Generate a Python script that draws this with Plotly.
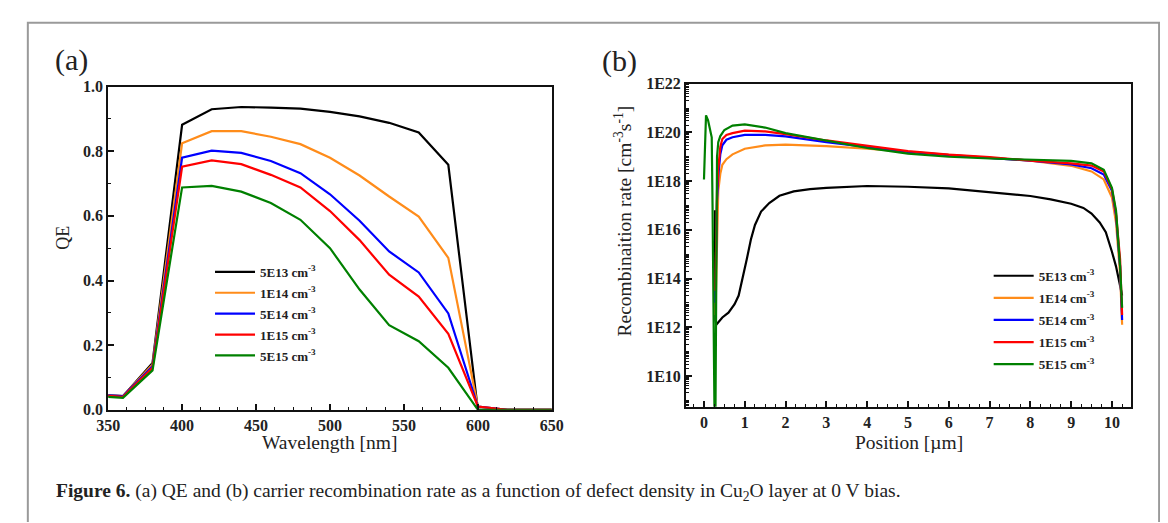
import plotly.graph_objects as go

W, H = 1168, 523

# ---------------- Panel (a): QE vs wavelength ----------------
wavelength = [350, 360, 380, 400, 420, 440, 460, 480, 500, 520, 540, 560, 580, 600, 620, 640, 650]
qe_5e13 = [0.045, 0.042, 0.145, 0.882, 0.930, 0.937, 0.935, 0.932, 0.922, 0.908, 0.888, 0.858, 0.758, 0.0, 0.0, 0.0, 0.0]
qe_1e14 = [0.045, 0.042, 0.140, 0.825, 0.862, 0.862, 0.845, 0.822, 0.780, 0.725, 0.660, 0.598, 0.470, 0.010, 0.0, 0.0, 0.0]
qe_5e14 = [0.045, 0.042, 0.135, 0.780, 0.802, 0.795, 0.770, 0.732, 0.667, 0.585, 0.490, 0.425, 0.298, 0.010, 0.0, 0.0, 0.0]
qe_1e15 = [0.043, 0.040, 0.130, 0.752, 0.772, 0.760, 0.727, 0.688, 0.615, 0.525, 0.418, 0.350, 0.235, 0.010, 0.0, 0.0, 0.0]
qe_5e15 = [0.040, 0.037, 0.122, 0.688, 0.693, 0.675, 0.640, 0.588, 0.500, 0.372, 0.262, 0.212, 0.130, 0.0, 0.0, 0.0, 0.0]

# ---------------- Panel (b): recombination rate vs position (log10 values) ----------------
pos_black = [0.27, 0.28, 0.30, 0.45, 0.60, 0.75, 0.85, 0.95, 1.05, 1.15, 1.25, 1.40, 1.60, 1.85, 2.2, 2.6, 3, 4, 5, 6, 7, 8, 8.5, 9, 9.3, 9.5, 9.7, 9.85, 10, 10.1, 10.2, 10.25]
log_5e13 = [16.8, 12.3, 12.1, 12.4, 12.6, 12.95, 13.3, 14.0, 14.8, 15.6, 16.2, 16.75, 17.1, 17.4, 17.58, 17.67, 17.72, 17.8, 17.77, 17.7, 17.56, 17.39, 17.25, 17.07, 16.9, 16.67, 16.3, 15.9, 15.1, 14.5, 13.7, 13.3]

pos_mid = [0.28, 0.30, 0.32, 0.35, 0.40, 0.45, 0.55, 0.70, 1, 1.5, 2, 3, 4, 5, 6, 7, 8, 9, 9.5, 9.8, 10, 10.1, 10.2, 10.25]
log_1e14 = [12.5, 14.2, 16.5, 17.6, 18.3, 18.67, 18.9, 19.1, 19.33, 19.47, 19.5, 19.44, 19.33, 19.2, 19.07, 18.96, 18.84, 18.63, 18.4, 18.07, 17.33, 16.3, 14.2, 12.1]
log_5e14 = [13.0, 15.0, 17.2, 18.2, 19.1, 19.47, 19.7, 19.8, 19.9, 19.9, 19.84, 19.6, 19.4, 19.2, 19.07, 18.97, 18.84, 18.69, 18.53, 18.27, 17.6, 16.6, 14.5, 12.3]
log_1e15 = [13.5, 15.5, 17.6, 18.5, 19.4, 19.73, 19.9, 19.97, 20.07, 20.04, 19.93, 19.67, 19.44, 19.23, 19.09, 18.99, 18.84, 18.73, 18.64, 18.4, 17.67, 16.7, 14.8, 12.5]

pos_green = [0, 0.02, 0.05, 0.10, 0.15, 0.19, 0.21, 0.23, 0.26, 0.28, 0.30, 0.32, 0.35, 0.40, 0.50, 0.70, 1, 1.5, 2, 3, 4, 5, 6, 7, 8, 9, 9.5, 9.8, 10, 10.1, 10.2, 10.25]
log_5e15 = [18.07, 19.6, 20.7, 20.5, 20.1, 19.8, 17.0, 12.0, 8.0, 8.0, 14.0, 19.0, 19.6, 19.85, 20.1, 20.28, 20.33, 20.2, 19.97, 19.67, 19.36, 19.13, 19.0, 18.93, 18.87, 18.83, 18.73, 18.47, 17.73, 16.8, 14.5, 12.8]

series_names = ["5E13 cm<sup>-3</sup>", "1E14 cm<sup>-3</sup>", "5E14 cm<sup>-3</sup>", "1E15 cm<sup>-3</sup>", "5E15 cm<sup>-3</sup>"]
colors = ["#000000", "#FF8C1A", "#0000FF", "#FF0000", "#008000"]

b_ticks_exp = [10, 12, 14, 16, 18, 20, 22]
b_tick_text = ["1E10", "1E12", "1E14", "1E16", "1E18", "1E20", "1E22"]

SERIF = "Liberation Serif"
INK = "#222222"

fig = go.Figure()

qe_list = [qe_5e13, qe_1e14, qe_5e14, qe_1e15, qe_5e15]
for name, col, ys in zip(series_names, colors, qe_list):
    fig.add_trace(go.Scatter(x=wavelength, y=ys, mode="lines", name=name,
                             line=dict(color=col, width=2.2),
                             xaxis="x", yaxis="y", legend="legend",
                             legendgroup="a" + name))

b_data = [(pos_black, log_5e13), (pos_mid, log_1e14), (pos_mid, log_5e14),
          (pos_mid, log_1e15), (pos_green, log_5e15)]
for name, col, (xs, ls) in zip(series_names, colors, b_data):
    fig.add_trace(go.Scatter(x=xs, y=[10.0 ** v for v in ls], mode="lines", name=name,
                             line=dict(color=col, width=2.2),
                             xaxis="x2", yaxis="y2", legend="legend2",
                             legendgroup="b" + name))

def px_x(p):
    return p / W

def px_y(p):
    return 1 - p / H

tickfont = dict(family=SERIF, size=16, color=INK, weight="bold")
axis_common = dict(showline=True, linecolor="#111", linewidth=2, mirror=True,
                   ticks="inside", ticklen=6, tickwidth=1.5, tickcolor="#111",
                   showgrid=False, zeroline=False)

legend_font = dict(family=SERIF, size=13, color=INK, weight="bold")

fig.update_layout(
    width=W, height=H,
    margin=dict(l=0, r=0, t=0, b=0),
    paper_bgcolor="white", plot_bgcolor="white",
    showlegend=True,
    xaxis=dict(domain=[px_x(90), px_x(543)], range=[350, 650], dtick=50, tick0=350,
               anchor="y", tickfont=tickfont,
               minor=dict(ticks="inside", ticklen=3, dtick=12.5, tickcolor="#111", tickwidth=1.2),
               **axis_common),
    yaxis=dict(domain=[px_y(407), px_y(73)], range=[0, 1.0], dtick=0.2, tickformat=".1f",
               anchor="x", tickfont=tickfont,
               minor=dict(ticks="inside", ticklen=3, dtick=0.1, tickcolor="#111", tickwidth=1.2),
               **axis_common),
    xaxis2=dict(domain=[px_x(680), px_x(1134)], range=[-0.44, 10.46], dtick=1, tick0=0,
                anchor="y2", tickfont=tickfont,
                minor=dict(ticks="inside", ticklen=3, dtick=0.25, tickcolor="#111", tickwidth=1.2),
                **axis_common),
    yaxis2=dict(domain=[px_y(404), px_y(70)], type="log", range=[8.73, 22],
                anchor="x2", tickfont=tickfont,
                tickvals=[10.0 ** e for e in b_ticks_exp], ticktext=b_tick_text,
                minor=dict(ticks="inside", ticklen=3, dtick="D1", tickcolor="#111", tickwidth=1),
                **axis_common),
    legend=dict(x=px_x(194), y=px_y(249), xanchor="left", yanchor="top",
                bgcolor="rgba(0,0,0,0)", borderwidth=0, tracegroupgap=1.0,
                itemwidth=40, font=legend_font),
    legend2=dict(x=px_x(989), y=px_y(253), xanchor="left", yanchor="top",
                 bgcolor="rgba(0,0,0,0)", borderwidth=0, tracegroupgap=2.2,
                 itemwidth=40, font=legend_font),
)

annotations = [
    dict(text="(a)", x=px_x(34), y=px_y(45), xanchor="left", yanchor="middle",
         font=dict(family=SERIF, size=30, color=INK)),
    dict(text="(b)", x=px_x(592), y=px_y(47), xanchor="left", yanchor="middle",
         font=dict(family=SERIF, size=30, color=INK)),
    dict(text="QE", x=px_x(43), y=px_y(229), textangle=-90, xanchor="center", yanchor="middle",
         font=dict(family=SERIF, size=18, color=INK)),
    dict(text="Wavelength [nm]", x=px_x(316), y=px_y(441), xanchor="center", yanchor="middle",
         font=dict(family=SERIF, size=19.5, color=INK)),
    dict(text="Position [µm]", x=px_x(908), y=px_y(441), xanchor="center", yanchor="middle",
         font=dict(family=SERIF, size=19.5, color=INK)),
    dict(text="Recombinaition rate [cm<sup>-3</sup>s<sup>-1</sup>]", x=px_x(616), y=px_y(212),
         textangle=-90, xanchor="center", yanchor="middle",
         font=dict(family=SERIF, size=19.5, color=INK)),
    dict(text="<b>Figure 6.</b> (a) QE and (b) carrier recombination rate as a function of defect density in Cu<sub>2</sub>O layer at 0 V bias.",
         x=px_x(35), y=px_y(492), xanchor="left", yanchor="middle",
         font=dict(family=SERIF, size=19.5, color=INK)),
]
for a in annotations:
    a.update(xref="paper", yref="paper", showarrow=False)
fig.update_layout(annotations=annotations)

# outer frame (no bottom edge)
fig.add_shape(type="path", xref="paper", yref="paper",
              path=f"M {px_x(8)},0 L {px_x(8)},{px_y(7)} L {px_x(1163)},{px_y(7)} L {px_x(1163)},0",
              line=dict(color="#9a9a9a", width=2))

fig.write_html("out.html")
